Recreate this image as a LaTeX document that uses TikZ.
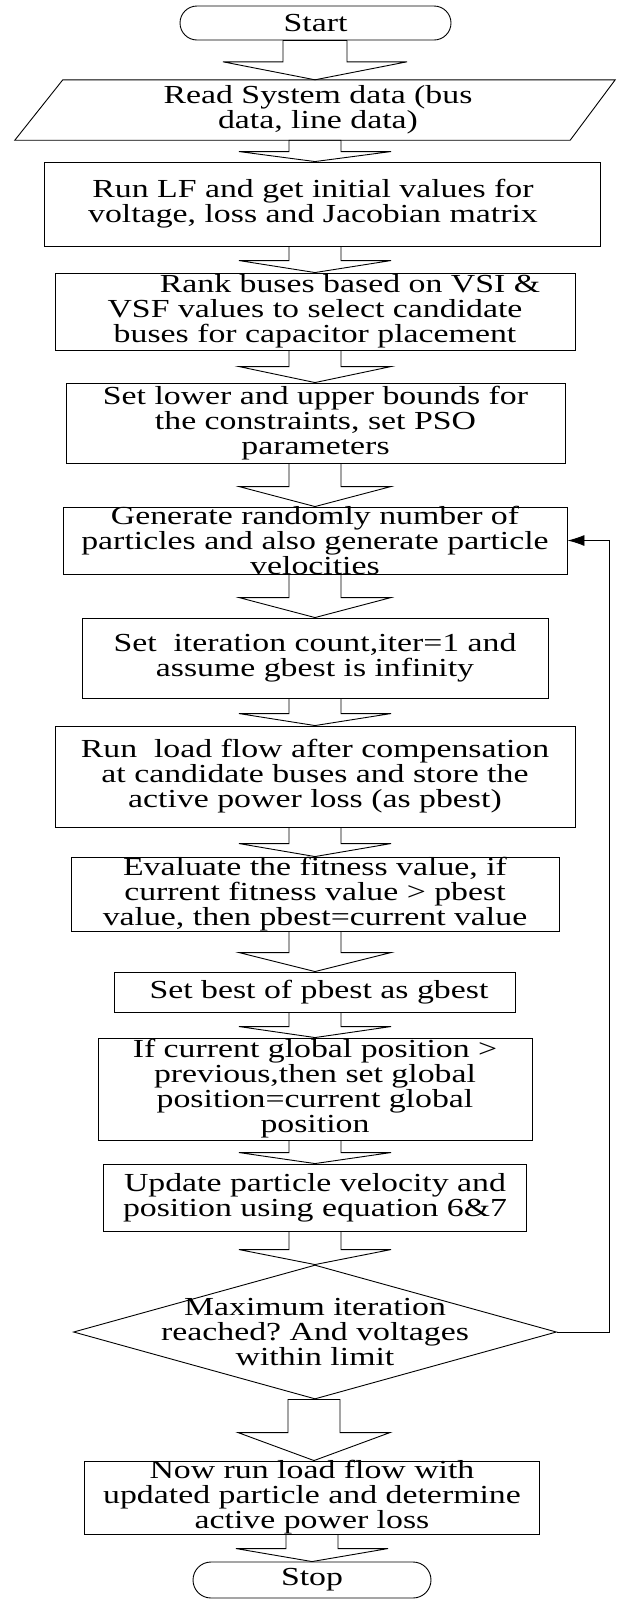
\documentclass[tikz,border=0pt]{standalone}
\usepackage{fontspec}
\setmainfont{Liberation Serif}[FakeStretch=1.30]
\usetikzlibrary{shapes.geometric,shapes.misc,calc,arrows.meta}
\newcommand\flowfont{\fontsize{26}{25}\selectfont\frenchspacing}
\tikzset{
  boxline/.style={draw=black, line width=0.9pt},
  box/.style={boxline, rectangle, inner sep=0pt},
  term/.style={boxline, rounded rectangle, inner sep=0pt, font=\flowfont},
  txt/.style={align=center, inner sep=0pt, font=\flowfont},
  barr/.style={boxline, line join=miter},
  back/.style={boxline, -{Latex[length=17pt,width=11pt]}},
}
\newcommand\blockarrow[6]{%
  \draw[barr] let \p1=(#1.south), \p2=(#2.north) in
    (#4pt-#5pt,\y1) -- (#4pt-#5pt,\y2+#3pt) -- (#4pt-#6pt,\y2+#3pt) -- (#4pt,\y2)
    -- (#4pt+#6pt,\y2+#3pt) -- (#4pt+#5pt,\y2+#3pt) -- (#4pt+#5pt,\y1) -- cycle;}
\begin{document}
\begin{tikzpicture}[x=1pt,y=-1pt]
\useasboundingbox (0,0) rectangle (617,1599);

\node[term, minimum width=271pt, minimum height=34pt] (start) at (315.5,23) {Start};

\node[inner sep=0pt, minimum width=600pt, minimum height=60pt] (read) at (315,110) {};
\draw[boxline] (read.south west) -- ([xshift=-45pt]read.south east) -- (read.north east) -- ([xshift=48pt]read.north west) -- cycle;
\node[txt] (read-t) at ([xshift=3pt]read.center) {Read System data (bus\\data, line data)};

\node[box, minimum width=556pt, minimum height=84pt] (runlf) at (322,204) {};
\node[txt] (runlf-t) at ([xshift=-9pt]runlf.center) {Run LF and get initial values for\\voltage, loss and Jacobian matrix};

\node[box, minimum width=520pt, minimum height=77pt] (rank) at (315,311.5) {};
\node[txt] (rank-t) at (rank) {\hspace*{70pt}Rank buses based on VSI \&\\VSF values to select candidate\\buses for capacitor placement};

\node[box, minimum width=499pt, minimum height=80pt] (setlow) at (315.5,423) {};
\node[txt] (setlow-t) at (setlow) {Set lower and upper bounds for\\the constraints, set PSO\\parameters};

\node[box, minimum width=504pt, minimum height=67pt] (gen) at (315,540.5) {};
\node[txt] (gen-t) at (gen) {Generate randomly number of\\particles and also generate particle\\velocities};

\node[box, minimum width=466pt, minimum height=80pt] (setiter) at (315,658) {};
\node[txt] (setiter-t) at (setiter) {Set\ \ iteration count,iter=1 and\\assume gbest is infinity};

\node[box, minimum width=520pt, minimum height=101pt] (runload) at (315,776.5) {};
\node[txt] (runload-t) at (runload) {Run\ \ load flow after compensation\\at candidate buses and store the\\active power loss (as pbest)};

\node[box, minimum width=488pt, minimum height=74pt] (eval) at (315,894) {};
\node[txt] (eval-t) at (eval) {Evaluate the fitness value, if\\current fitness value > pbest\\value, then pbest=current value};

\node[box, minimum width=401pt, minimum height=40pt] (setbest) at (315,992) {};
\node[txt] (setbest-t) at ([xshift=4pt]setbest.center) {Set best of pbest as gbest};

\node[box, minimum width=434pt, minimum height=102pt] (ifbox) at (315,1089) {};
\node[txt] (ifbox-t) at (ifbox) {If current global position >\\previous,then set global\\position=current global\\position};

\node[box, minimum width=423pt, minimum height=67pt] (update) at (315,1197.5) {};
\node[txt] (update-t) at (update) {Update particle velocity and\\position using equation 6\&7};

\node[diamond, boxline, inner sep=0pt, minimum width=483pt, minimum height=134pt] (dia) at (315,1332) {};
\node[txt] (dia-t) at (dia) {Maximum iteration\\reached? And voltages\\within limit};

\node[box, minimum width=455pt, minimum height=73pt] (nowrun) at (312,1497.5) {};
\node[txt] (nowrun-t) at (nowrun) {Now run load flow with\\updated particle and determine\\active power loss};

\node[term, minimum width=238pt, minimum height=36pt] (stop) at (312,1580) {Stop};

\blockarrow{start}{read}{18}{315}{32}{92}
\blockarrow{read}{runlf}{10}{315}{26}{76}
\blockarrow{runlf}{rank}{12}{315}{26}{76}
\blockarrow{rank}{setlow}{16}{315}{26}{76}
\blockarrow{setlow}{gen}{20}{315}{26}{76}
\blockarrow{gen}{setiter}{20}{315}{26}{76}
\blockarrow{setiter}{runload}{12}{315}{26}{76}
\blockarrow{runload}{eval}{13}{315}{26}{76}
\blockarrow{eval}{setbest}{19}{315}{26}{76}
\blockarrow{setbest}{ifbox}{11}{315}{26}{76}
\blockarrow{ifbox}{update}{11}{315}{26}{76}
\blockarrow{update}{dia}{15}{315}{26}{76}
\blockarrow{dia}{nowrun}{28}{314}{26}{76}
\blockarrow{nowrun}{stop}{13}{312}{26}{76}

\draw[back] (dia.east) -- ++(52,0) |- (gen.east);
\end{tikzpicture}
\end{document}
